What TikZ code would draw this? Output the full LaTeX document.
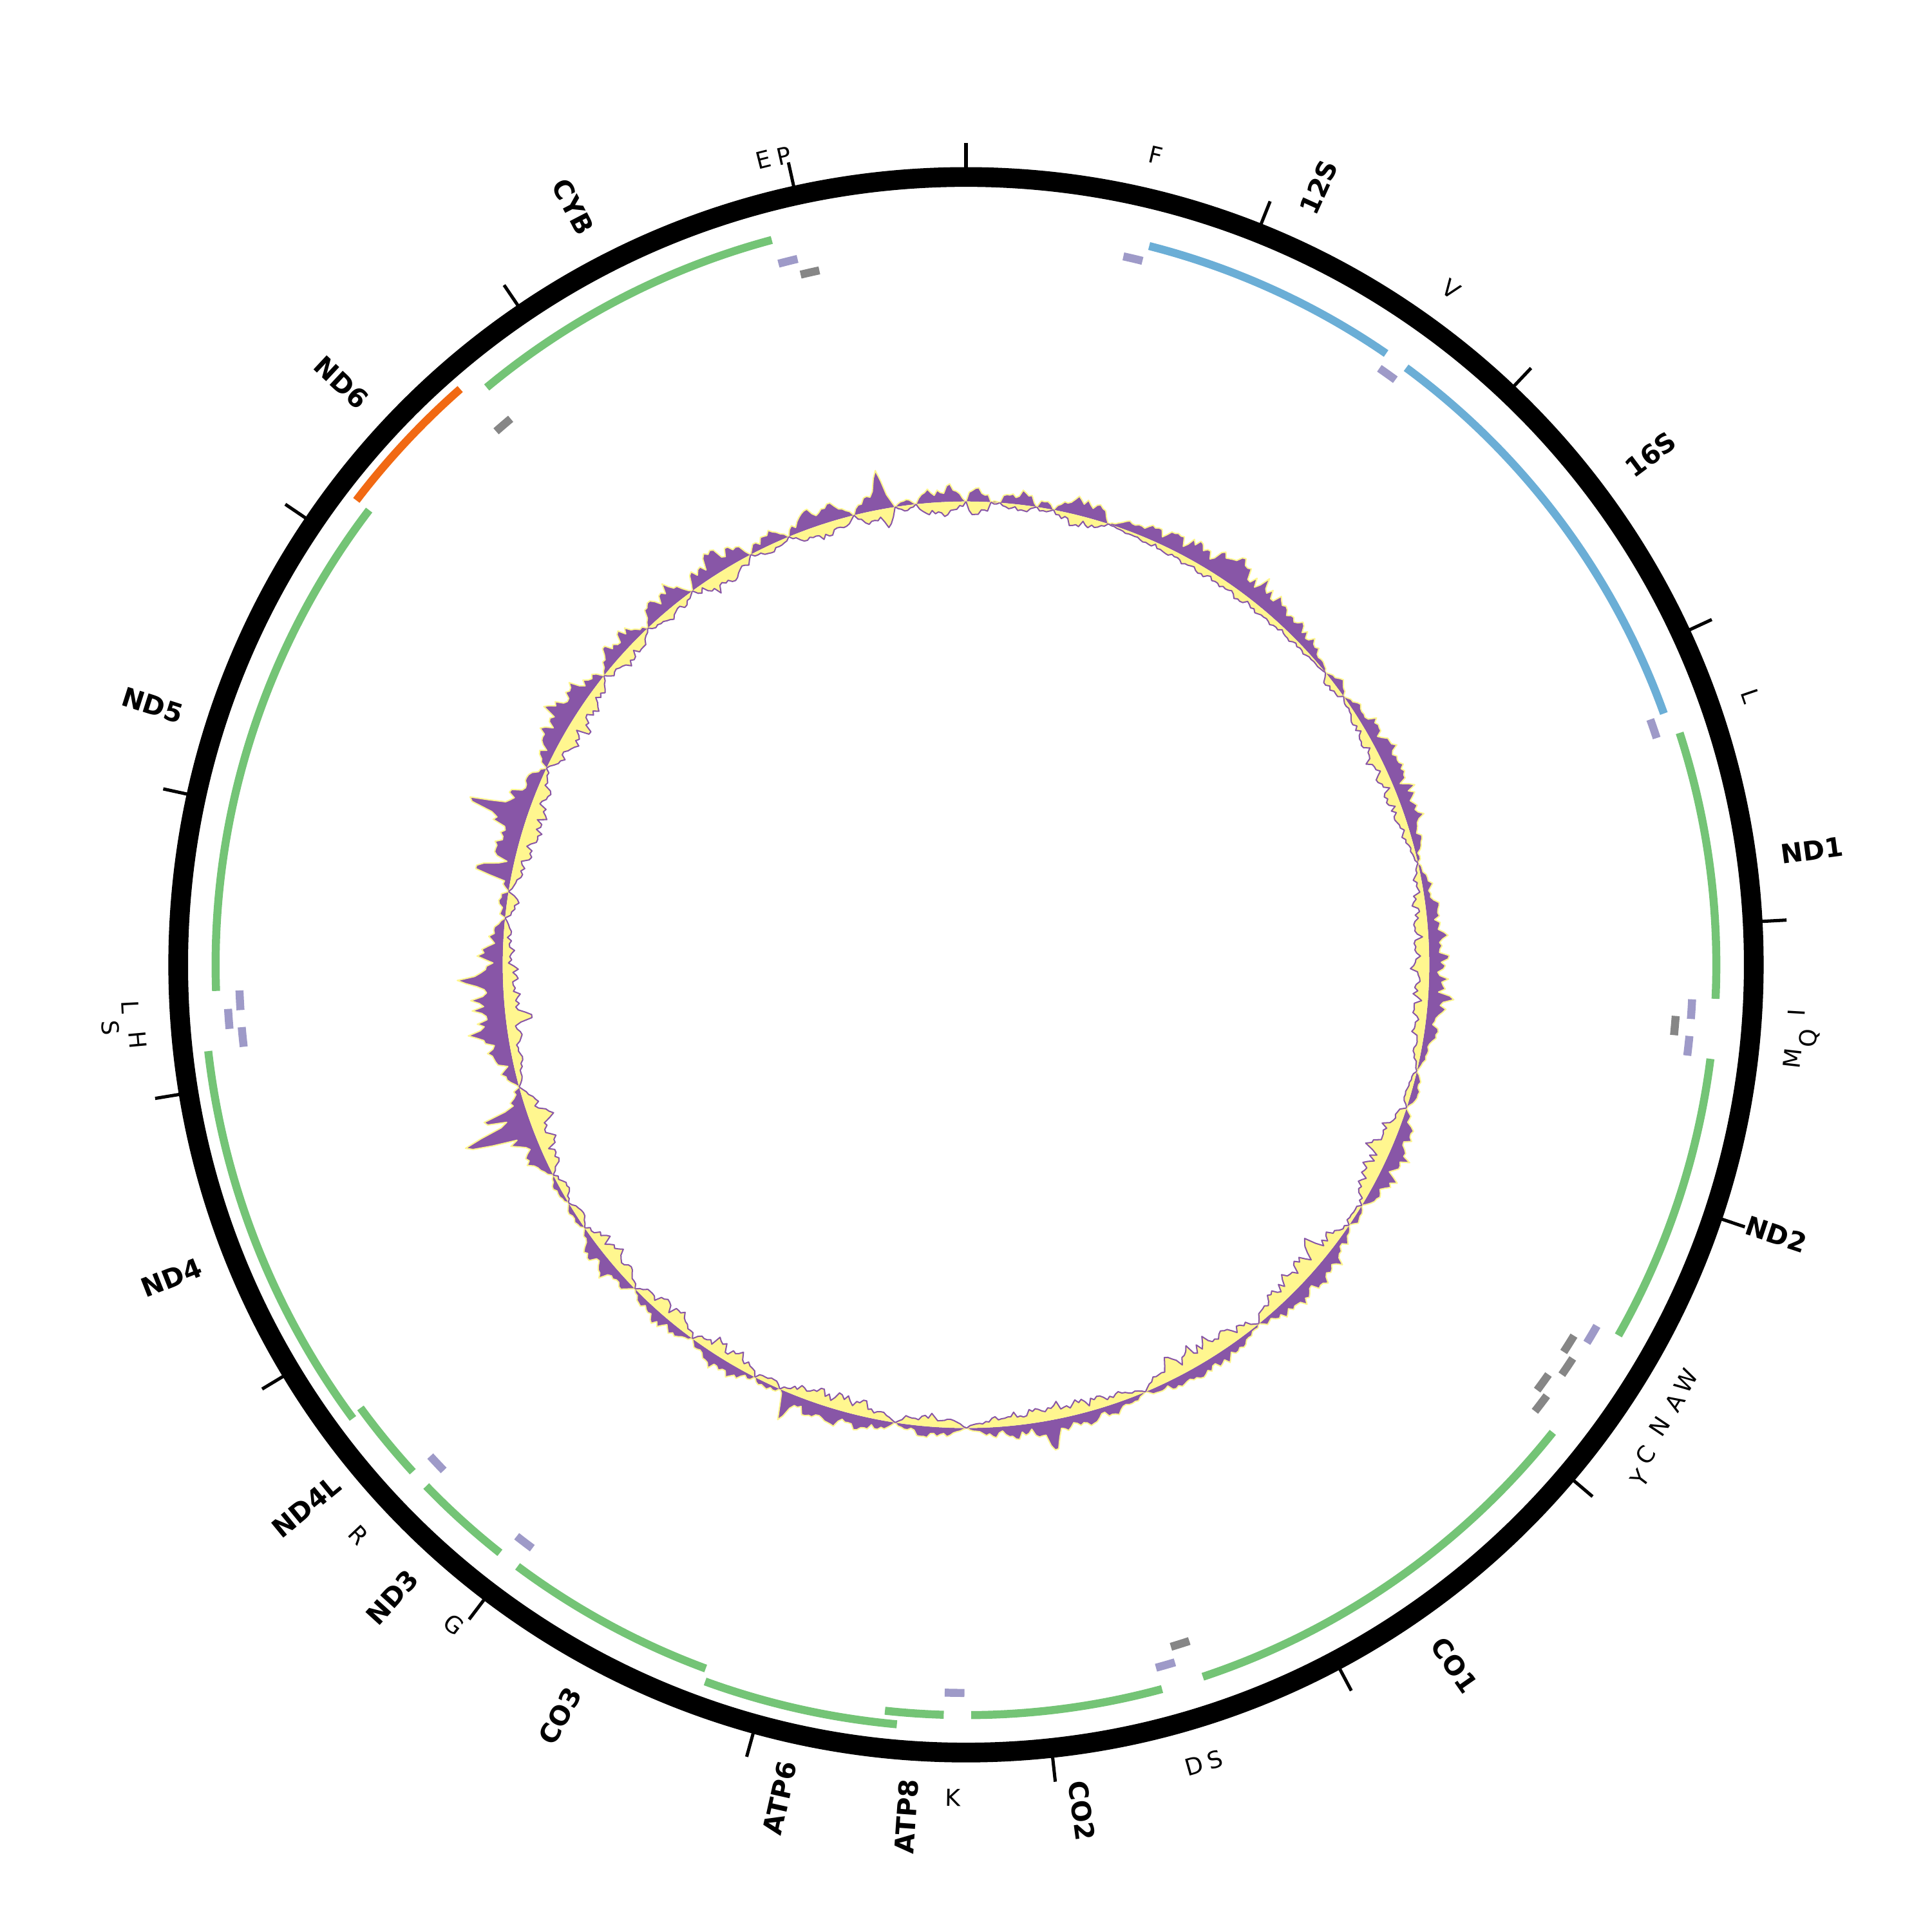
\documentclass[tikz,border=0pt]{standalone}
\usepackage{fontspec}
\setmainfont{DejaVu Sans}
\definecolor{gGreen}{HTML}{74C476}
\definecolor{gBlue}{HTML}{6BAED6}
\definecolor{gOrange}{HTML}{F16913}
\definecolor{tLav}{HTML}{9E9AC8}
\definecolor{tGray}{HTML}{868686}
\definecolor{pPurple}{HTML}{8856A7}
\definecolor{pYellow}{HTML}{FFF68F}
\newcommand\gcR{376}
\newcommand\garc[4]{\draw[featline,#4] ({90-(#1)}:#3) arc[start angle={90-(#1)},end angle={90-(#2)},radius={#3*0.01cm}];}
\newcommand\trna[3]{\garc{#1-0.775}{#1+0.775}{#2}{#3}}
\newcommand\glab[3]{\node[glabel,rotate={ifthenelse(#2<180,90-#2,270-#2)}] (#1) at ({90-#2}:693) {#3};}
\newcommand\tlab[4]{\node[tlabel,rotate={ifthenelse(and(#2>90,#2<270),180-#2,-#2)}] (#1) at ({90-#2}:#3) {#4};}
% outer (purple) and inner (yellow) radius of point \i of a segment
\newcommand\gcOut{\gcR+1.25*\gcE*\gcP*(0.55+0.15*sin(\i*47+\gcA*11)+0.12*sin(\i*113+\gcA*5)+0.3*hsh(\i,\gcA))+spP(\gcX)*sqrt(\gcE)}
\newcommand\gcIn{\gcR-1.5*\gcE*\gcY*(0.55+0.15*sin(\i*53+\gcA*7)+0.12*sin(\i*127+\gcA*3)+0.3*hsh(\i,\gcA+97))-spY(\gcX)*sqrt(\gcE)}
\newcommand\gcseg[4]{%
 \pgfmathtruncatemacro\gcn{max(3,round((#2-#1)/0.4))}%
 \pgfmathtruncatemacro\gcm{\gcn-1}%
 \def\gcA{#1}\def\gcP{#3}\def\gcY{#4}%
 \fill[pPurple] ({90-(#1)}:\gcR)
   \foreach \i [evaluate={\i as \gcX using #1+(#2-#1)*\i/\gcn}, evaluate={\i as \gcE using pow(abs(sin(180*\i/\gcn)),0.6)}] in {1,...,\gcm} {
     -- ({90-\gcX}:{\gcOut})
   } -- ({90-(#2)}:\gcR) arc[start angle={90-(#2)},end angle={90-(#1)},radius=3.76cm] -- cycle;
 \fill[pYellow] ({90-(#1)}:\gcR)
   \foreach \i [evaluate={\i as \gcX using #1+(#2-#1)*\i/\gcn}, evaluate={\i as \gcE using pow(abs(sin(180*\i/\gcn)),0.6)}] in {1,...,\gcm} {
     -- ({90-\gcX}:{\gcIn})
   } -- ({90-(#2)}:\gcR) arc[start angle={90-(#2)},end angle={90-(#1)},radius=3.76cm] -- cycle;
 \draw[gcedgeP] ({90-(#1)}:\gcR)
   \foreach \i [evaluate={\i as \gcX using #1+(#2-#1)*\i/\gcn}, evaluate={\i as \gcE using pow(abs(sin(180*\i/\gcn)),0.6)}] in {1,...,\gcm} {
     -- ({90-\gcX}:{\gcOut})
   } -- ({90-(#2)}:\gcR);
 \draw[gcedgeY] ({90-(#1)}:\gcR)
   \foreach \i [evaluate={\i as \gcX using #1+(#2-#1)*\i/\gcn}, evaluate={\i as \gcE using pow(abs(sin(180*\i/\gcn)),0.6)}] in {1,...,\gcm} {
     -- ({90-\gcX}:{\gcIn})
   } -- ({90-(#2)}:\gcR);
}
\begin{document}
\begin{tikzpicture}[x=0.01cm,y=0.01cm,
  featline/.style={line width=1.85pt},
  tickline/.style={line width=0.75pt},
  glabel/.style={font=\bfseries\fontsize{6.1}{7}\selectfont,inner sep=0pt,anchor=center},
  tlabel/.style={font=\fontsize{5.4}{6}\selectfont,inner sep=0pt,anchor=center},
  gcedgeP/.style={draw=pYellow,line width=0.3pt,line join=round},
  gcedgeY/.style={draw=pPurple,line width=0.3pt,line join=round},
  declare function={
    hsh(\a,\b)=frac(437.58*abs(sin(\a*129.898+\b*7.8233)));
    spP(\z)=28*max(0,1-abs(\z-349.6)/0.9)+12*max(0,1-abs(\z-34)/1.2)+14*max(0,1-abs(\z-94)/0.8)
      +22*max(0,1-abs(\z-169.4)/0.9)+30*max(0,1-abs(\z-202.4)/0.9)+52*max(0,1-abs(\z-249.8)/1.0)
      +28*max(0,1-abs(\z-251.7)/0.8)+14*max(0,1-abs(\z-261.5)/0.8)+18*max(0,1-abs(\z-268)/0.9)
      +32*max(0,1-abs(\z-281.3)/0.9)+40*max(0,1-abs(\z-288.6)/1.0);
    spY(\z)=10*max(0,1-abs(\z-350.3)/0.8)+10*max(0,1-abs(\z-129.3)/0.9)+8*max(0,1-abs(\z-152.9)/0.9)
      +10*max(0,1-abs(\z-250.6)/0.9)+12*max(0,1-abs(\z-263.3)/0.9);
  }]
\useasboundingbox (-784,-785) rectangle (784,783);

% outer ring and ticks
\draw[line width=4.55pt] (0,0) circle[radius=6.39cm];
\foreach \k in {0,...,16} \draw[tickline] ({90-21.72*\k}:646) -- ({90-21.72*\k}:667);

% genes
\garc{14.3}{34.5}{602}{gBlue}
\garc{36.4}{70.2}{602}{gBlue}
\garc{72.0}{92.6}{609}{gGreen}
\garc{97.2}{119.6}{609}{gGreen}
\garc{128.55}{161.6}{609}{gGreen}
\garc{164.85}{179.6}{609}{gGreen}
\garc{181.7}{186.2}{609}{gGreen}
\garc{185.2}{200.0}{619}{gGreen}
\garc{200.3}{216.7}{609}{gGreen}
\garc{218.4}{226.0}{609}{gGreen}
\garc{227.5}{233.8}{609}{gGreen}
\garc{233.5}{263.5}{619}{gGreen}
\garc{268.0}{307.3}{609}{gGreen}
\garc{307.3}{318.7}{622}{gOrange}
\garc{320.3}{345.0}{609}{gGreen}

% tRNAs
\trna{13.3}{589}{tLav}
\trna{35.5}{589}{tLav}
\trna{71.05}{590}{tLav}
\trna{93.5}{590}{tLav}
\trna{94.9}{577.5}{tGray}
\trna{96.4}{590}{tLav}
\trna{120.56}{590}{tLav}
\trna{122.16}{578}{tGray}
\trna{123.75}{587}{tGray}
\trna{125.9}{578}{tGray}
\trna{127.35}{587}{tGray}
\trna{162.5}{578}{tGray}
\trna{164.1}{591}{tLav}
\trna{180.9}{591}{tLav}
\trna{217.4}{590}{tLav}
\trna{226.7}{590}{tLav}
\trna{264.3}{590}{tLav}
\trna{265.8}{600}{tLav}
\trna{267.2}{590}{tLav}
\trna{319.4}{577}{tGray}
\trna{345.8}{589}{tLav}
\trna{347.3}{576}{tGray}

% gene labels
\glab{g12S}{24.4}{12S}
\glab{g16S}{53.3}{16S}
\glab{gND1}{82.3}{ND1}
\glab{gND2}{108.4}{ND2}
\glab{gCO1}{145.1}{CO1}
\glab{gCO2}{172.2}{CO2}
\glab{gATP8}{184.0}{ATP8}
\glab{gATP6}{192.6}{ATP6}
\glab{gCO3}{208.4}{CO3}
\glab{gND3}{222.2}{ND3}
\glab{gND4L}{230.6}{ND4L}
\glab{gND4}{248.5}{ND4}
\glab{gND5}{287.7}{ND5}
\glab{gND6}{313.0}{ND6}
\glab{gCYB}{332.6}{CYB}

% tRNA labels
\tlab{tF}{13.2}{675}{F}
\tlab{tV}{35.7}{675}{V}
\tlab{tLa}{71.1}{673}{L}
\tlab{tI}{93.3}{675}{I}
\tlab{tQ}{95.0}{687}{Q}
\tlab{tM}{96.45}{675}{M}
\tlab{tW}{120.05}{675}{W}
\tlab{tA}{121.7}{676}{A}
\tlab{tN}{123.65}{676}{N}
\tlab{tC}{125.8}{680}{C}
\tlab{tY}{127.3}{688}{Y}
\tlab{tSa}{162.6}{676}{S}
\tlab{tD}{164.1}{676}{D}
\tlab{tK}{180.9}{676}{K}
\tlab{tG}{217.8}{678}{G}
\tlab{tR}{226.8}{676}{R}
\tlab{tH}{264.8}{675}{H}
\tlab{tSb}{265.8}{696}{S}
\tlab{tLb}{267.1}{679}{L}
\tlab{tE}{345.9}{674}{E}
\tlab{tP}{347.3}{673}{P}

% GC skew plot
\gcseg{337.5}{346.0}{15}{9}
\gcseg{346.0}{351.2}{13}{9}
\gcseg{351.2}{353.8}{4}{3}
\gcseg{353.8}{360}{12}{9}
\gcseg{0}{3.1}{11}{10}
\gcseg{3.1}{4.2}{1}{1}
\gcseg{4.2}{8.8}{11}{4}
\gcseg{8.8}{10.9}{7}{3}
\gcseg{10.9}{17.9}{15}{7}
\gcseg{17.9}{50.9}{17}{5}
\gcseg{50.9}{54.6}{6}{5}
\gcseg{54.6}{77.3}{14}{8}
\gcseg{77.3}{103.3}{13}{10}
\gcseg{103.3}{108}{6}{4}
\gcseg{108}{121.3}{14}{13}
\gcseg{121.3}{124.2}{5}{4}
\gcseg{124.2}{140.8}{13}{13}
\gcseg{140.8}{157.2}{10}{13}
\gcseg{157.2}{179.9}{11}{9}
\gcseg{179.9}{188.8}{8}{7}
\gcseg{188.8}{203.7}{13}{10}
\gcseg{203.7}{207.1}{5}{5}
\gcseg{207.1}{216.2}{10}{10}
\gcseg{216.2}{225.6}{9}{10}
\gcseg{225.6}{235.4}{12}{10}
\gcseg{235.4}{239.1}{5}{5}
\gcseg{239.1}{243.0}{5}{5}
\gcseg{243.0}{254.7}{18}{12}
\gcseg{254.7}{275.8}{22}{10}
\gcseg{275.8}{279.1}{8}{8}
\gcseg{279.1}{295.1}{20}{12}
\gcseg{295.1}{308.6}{21}{12}
\gcseg{308.6}{316.6}{14}{8}
\gcseg{316.6}{323.8}{16}{6}
\gcseg{323.8}{332.3}{18}{10}
\gcseg{332.3}{337.5}{10}{5}
\end{tikzpicture}
\end{document}
